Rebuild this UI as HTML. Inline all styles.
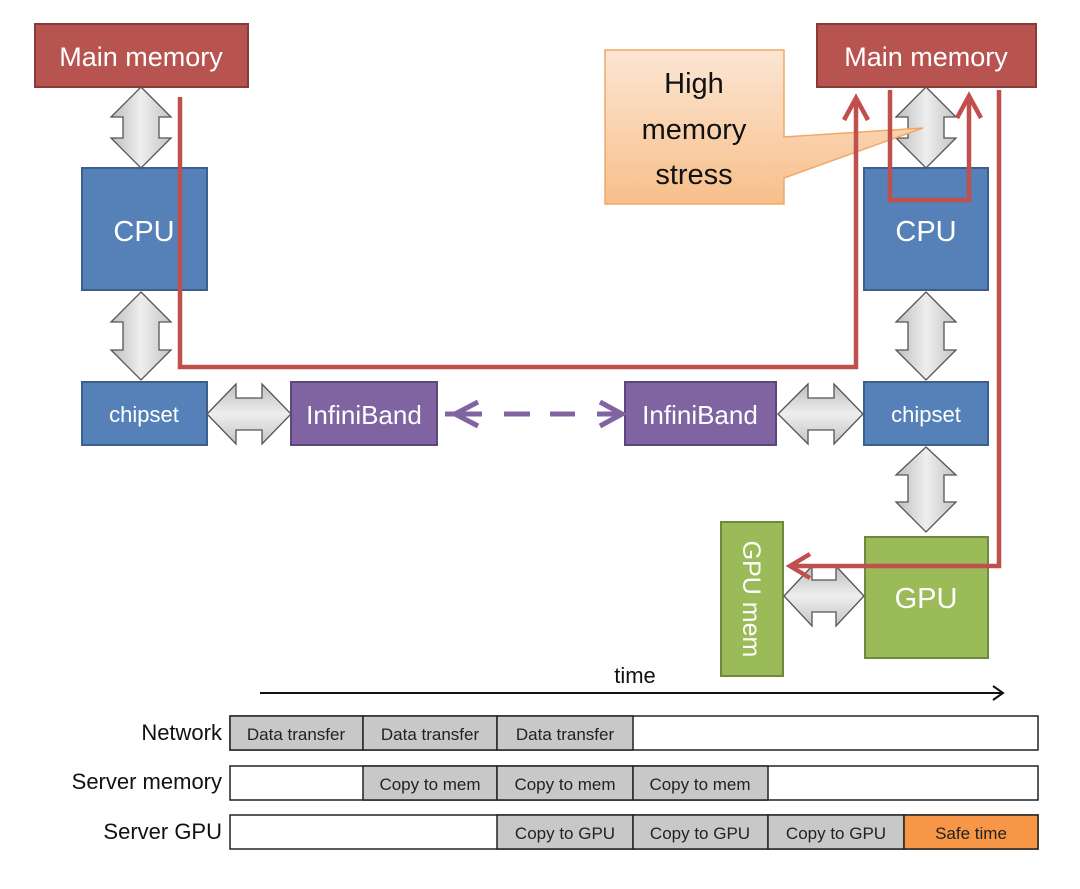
<!DOCTYPE html>
<html><head><meta charset="utf-8"><style>
body{margin:0;background:#fff}
svg{display:block}
text{font-family:"Liberation Sans",sans-serif}
</style></head><body>
<svg width="1080" height="889" viewBox="0 0 1080 889" xmlns="http://www.w3.org/2000/svg">
<defs>
<linearGradient id="ga" x1="0" x2="1" y1="0" y2="0"><stop offset="0" stop-color="#bdbdbd"/><stop offset="0.5" stop-color="#eeeeee"/><stop offset="1" stop-color="#c4c4c4"/></linearGradient>
<linearGradient id="gb" x1="0" x2="0" y1="0" y2="1"><stop offset="0" stop-color="#bdbdbd"/><stop offset="0.5" stop-color="#eeeeee"/><stop offset="1" stop-color="#c4c4c4"/></linearGradient>
<linearGradient id="gc" x1="0" x2="0" y1="0" y2="1"><stop offset="0" stop-color="#fce6d4"/><stop offset="1" stop-color="#f7bf8a"/></linearGradient>
</defs>
<!-- boxes -->
<g stroke-width="2">
<rect x="35" y="24" width="213" height="63" fill="#b85450" stroke="#8c3a37"/>
<rect x="817" y="24" width="219" height="63" fill="#b85450" stroke="#8c3a37"/>
<rect x="82" y="168" width="125" height="122" fill="#5580b8" stroke="#3d5f8c"/>
<rect x="864" y="168" width="124" height="122" fill="#5580b8" stroke="#3d5f8c"/>
<rect x="82" y="382" width="125" height="63" fill="#5580b8" stroke="#3d5f8c"/>
<rect x="864" y="382" width="124" height="63" fill="#5580b8" stroke="#3d5f8c"/>
<rect x="291" y="382" width="146" height="63" fill="#8064a2" stroke="#5c477a"/>
<rect x="625" y="382" width="151" height="63" fill="#8064a2" stroke="#5c477a"/>
<rect x="865" y="537" width="123" height="121" fill="#9bbb59" stroke="#71893f"/>
<rect x="721" y="522" width="62" height="154" fill="#9bbb59" stroke="#71893f"/>
</g>
<!-- vertical double arrows -->
<g stroke="#555" stroke-width="1.3" fill="url(#ga)">
<polygon points="141,87 171,117 159,117 159,138 171,138 141,168 111,138 123,138 123,117 111,117"/>
<polygon points="141,292 171,322 159,322 159,350 171,350 141,380 111,350 123,350 123,322 111,322"/>
<polygon points="926,87 956,117 944,117 944,138 956,138 926,168 896,138 908,138 908,117 896,117"/>
<polygon points="926,292 956,322 944,322 944,350 956,350 926,380 896,350 908,350 908,322 896,322"/>
<polygon points="926,447 956,475 944,475 944,502 956,502 926,532 896,502 908,502 908,475 896,475"/>
</g>
<g stroke="#555" stroke-width="1.3" fill="url(#gb)">
<polygon points="207,414 236,384 236,398 262,398 262,384 291,414 262,444 262,430 236,430 236,444"/>
<polygon points="778,414 808,384 808,398 834,398 834,384 863,414 834,444 834,430 808,430 808,444"/>
<polygon points="784,596 812,566 812,580 836,580 836,566 864,596 836,626 836,612 812,612 812,626"/>
</g>
<!-- callout -->
<path d="M605,50 H784 V137 L923,128 L784,178 V204 H605 Z" fill="url(#gc)" stroke="#f0a868" stroke-width="1.5"/>
<text x="694" y="93" font-size="29" text-anchor="middle" fill="#111">High</text>
<text x="694" y="139" font-size="29" text-anchor="middle" fill="#111">memory</text>
<text x="694" y="184" font-size="29" text-anchor="middle" fill="#111">stress</text>
<!-- red paths -->
<g stroke="#c0504d" stroke-width="4.5" fill="none" stroke-linejoin="miter">
<polyline points="180,97 180,367 856,367 856,98"/>
<polyline points="844,120 856,98 868,120"/>
<polyline points="890,90 890,200 969,200 969,96"/>
<polyline points="957,118 969,96 981,118"/>
<polyline points="999,90 999,566 790,566"/>
<polyline points="810,554 790,566 810,578"/>
</g>
<!-- dashed purple -->
<g stroke="#8064a2" stroke-width="5" fill="none">
<line x1="445" y1="414" x2="482" y2="414"/>
<line x1="504" y1="414" x2="530" y2="414"/>
<line x1="550" y1="414" x2="575" y2="414"/>
<line x1="597" y1="414" x2="620" y2="414"/>
<polyline points="478,402 455,414 478,426" stroke-width="5"/>
<polyline points="600,402 622,414 600,426" stroke-width="5"/>
</g>
<!-- labels -->
<g fill="#fff" text-anchor="middle">
<text x="141" y="66" font-size="27">Main memory</text>
<text x="926" y="66" font-size="27">Main memory</text>
<text x="144" y="241" font-size="29">CPU</text>
<text x="926" y="241" font-size="29">CPU</text>
<text x="144" y="422" font-size="22">chipset</text>
<text x="926" y="422" font-size="22">chipset</text>
<text x="364" y="424" font-size="26">InfiniBand</text>
<text x="700" y="424" font-size="26">InfiniBand</text>
<text x="926" y="608" font-size="29">GPU</text>
<text x="0" y="0" font-size="25" transform="translate(743,599) rotate(90)">GPU mem</text>
</g>
<!-- timeline -->
<text x="635" y="683" font-size="22" text-anchor="middle" fill="#111">time</text>
<line x1="260" y1="693" x2="1002" y2="693" stroke="#111" stroke-width="2"/>
<polyline points="993,686 1003,693 993,700" stroke="#111" stroke-width="2" fill="none"/>
<g font-size="22" fill="#111" text-anchor="end">
<text x="222" y="740">Network</text>
<text x="222" y="789">Server memory</text>
<text x="222" y="839">Server GPU</text>
</g>
<g stroke="#222" stroke-width="1.5">
<rect x="230" y="716" width="808" height="34" fill="#fff"/>
<rect x="230" y="766" width="808" height="34" fill="#fff"/>
<rect x="230" y="815" width="808" height="34" fill="#fff"/>
<rect x="230" y="716" width="133" height="34" fill="#c8c8c8"/>
<rect x="363" y="716" width="134" height="34" fill="#c8c8c8"/>
<rect x="497" y="716" width="136" height="34" fill="#c8c8c8"/>
<rect x="363" y="766" width="134" height="34" fill="#c8c8c8"/>
<rect x="497" y="766" width="136" height="34" fill="#c8c8c8"/>
<rect x="633" y="766" width="135" height="34" fill="#c8c8c8"/>
<rect x="497" y="815" width="136" height="34" fill="#c8c8c8"/>
<rect x="633" y="815" width="135" height="34" fill="#c8c8c8"/>
<rect x="768" y="815" width="136" height="34" fill="#c8c8c8"/>
<rect x="904" y="815" width="134" height="34" fill="#f79646"/>
</g>
<g font-size="17" fill="#222" text-anchor="middle">
<text x="296" y="740">Data transfer</text>
<text x="430" y="740">Data transfer</text>
<text x="565" y="740">Data transfer</text>
<text x="430" y="790">Copy to mem</text>
<text x="565" y="790">Copy to mem</text>
<text x="700" y="790">Copy to mem</text>
<text x="565" y="839">Copy to GPU</text>
<text x="700" y="839">Copy to GPU</text>
<text x="836" y="839">Copy to GPU</text>
<text x="971" y="839">Safe time</text>
</g>
</svg>
</body></html>
